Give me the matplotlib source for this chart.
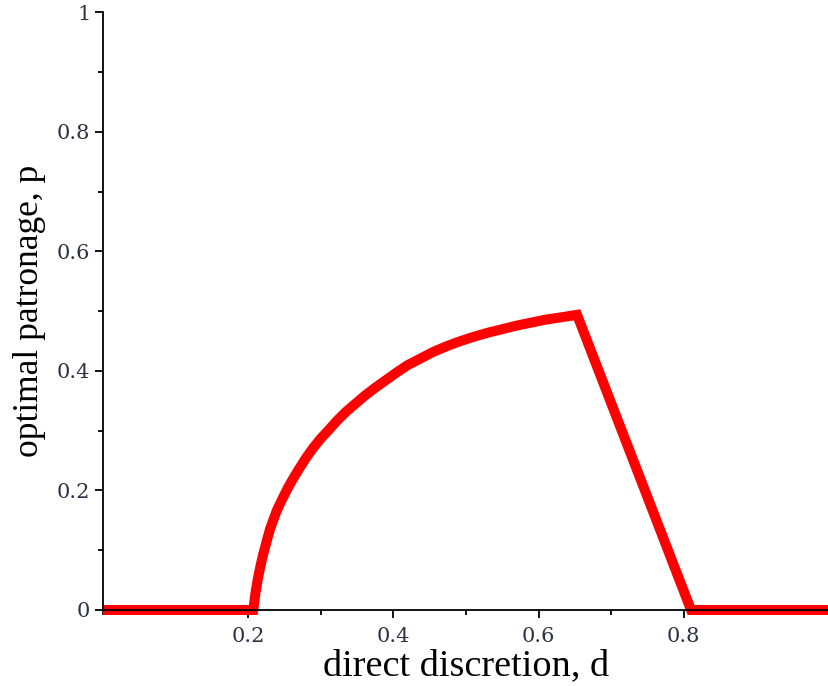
import matplotlib
matplotlib.use("Agg")
import matplotlib.pyplot as plt
from matplotlib.ticker import MultipleLocator, FixedLocator

# Data
d_vals = [0.0, 0.207, 0.210, 0.213, 0.2165, 0.220, 0.225, 0.230, 0.235, 0.240,
          0.2475, 0.255, 0.2625, 0.270, 0.280, 0.290, 0.300, 0.310, 0.3225,
          0.335, 0.3475, 0.360, 0.375, 0.390, 0.405, 0.420, 0.4375, 0.455,
          0.4725, 0.490, 0.510, 0.530, 0.550, 0.570, 0.590, 0.610, 0.632, 0.653,
          0.810, 1.0]
p_vals = [0.0, 0.0, 0.028, 0.050, 0.071, 0.090, 0.113, 0.135, 0.152, 0.168,
          0.187, 0.205, 0.221, 0.236, 0.255, 0.272, 0.287, 0.300, 0.317,
          0.332, 0.345, 0.358, 0.372, 0.385, 0.398, 0.410, 0.421, 0.432,
          0.441, 0.449, 0.457, 0.464, 0.470, 0.476, 0.481, 0.486, 0.490, 0.494,
          0.0, 0.0]
x_ticks = [0.2, 0.4, 0.6, 0.8]
x_ticklabels = ["0.2", "0.4", "0.6", "0.8"]
y_ticks = [0, 0.2, 0.4, 0.6, 0.8, 1]
y_ticklabels = ["0", "0.2", "0.4", "0.6", "0.8", "1"]

fig = plt.figure(figsize=(8.29, 6.86), dpi=100)
ax = fig.add_axes([0.1242, 0.1108, 0.8758, 0.8710])

ax.plot(d_vals, p_vals, color="#ff0000", lw=7.2, solid_joinstyle="miter",
        solid_capstyle="butt", zorder=2, clip_on=False)

ax.set_xlim(0, 1)
ax.set_ylim(0, 1)

for s in ["top", "right"]:
    ax.spines[s].set_visible(False)
for s in ["left", "bottom"]:
    ax.spines[s].set_linewidth(1.3)
    ax.spines[s].set_zorder(3)

ax.xaxis.set_major_locator(FixedLocator(x_ticks))
ax.set_xticklabels(x_ticklabels)
ax.xaxis.set_minor_locator(MultipleLocator(0.1))
ax.yaxis.set_major_locator(FixedLocator(y_ticks))
ax.set_yticklabels(y_ticklabels)
ax.yaxis.set_minor_locator(MultipleLocator(0.1))

tick_color = "#2b3245"
ax.tick_params(axis="both", which="major", direction="out", length=6, width=1.3,
               labelsize=15, labelcolor=tick_color)
ax.tick_params(axis="x", which="major", pad=6)
ax.tick_params(axis="y", which="major", pad=3)
ax.tick_params(axis="both", which="minor", direction="out", length=3.5, width=1.3)
for lab in ax.get_xticklabels() + ax.get_yticklabels():
    lab.set_fontfamily("DejaVu Serif")

ax.set_xlabel("direct discretion, d", fontsize=27.5, family="Liberation Serif",
              labelpad=2)
ax.set_ylabel("optimal patronage, p", fontsize=25.5, family="Liberation Serif",
              labelpad=8)

fig.savefig("out.png", dpi=100)
